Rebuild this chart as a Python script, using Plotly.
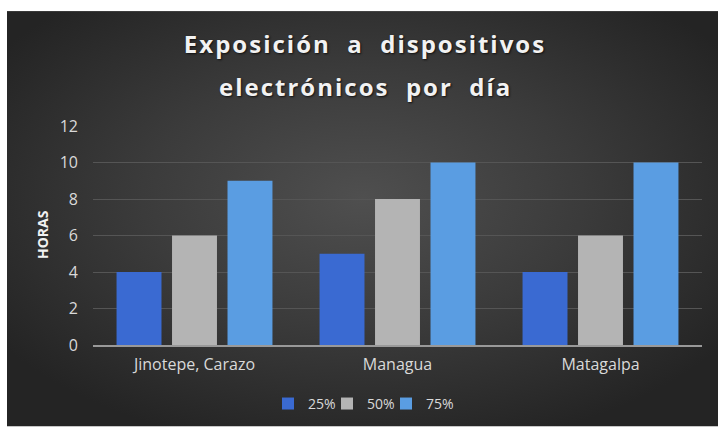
import base64
import plotly.graph_objects as go

categories = ["Jinotepe, Carazo", "Managua", "Matagalpa"]
series_names = ["25%", "50%", "75%"]
v25 = [4, 5, 4]
v50 = [6, 8, 6]
v75 = [9, 10, 10]
y_ticks = [0, 2, 4, 6, 8, 10, 12]

title_lines = ["Exposición&nbsp; a&nbsp; dispositivos", "electrónicos&nbsp; por&nbsp; día"]
colors = ["#3A6AD2", "#B4B4B4", "#5A9DE2"]

W, H = 718, 432
L, R, T, B = 93, 16, 126, 83
pw, ph = W - L - R, H - T - B
BG_X0, BG_Y0 = 7, 9  # dark chart area starts here (white border left/top)


def px(x):
    return (x - L) / pw


def py(y):
    return (H - B - y) / ph


bw, bh = W - BG_X0, H - BG_Y0
svg = f'''<svg xmlns="http://www.w3.org/2000/svg" width="{bw}" height="{bh}" viewBox="0 0 {bw} {bh}" preserveAspectRatio="none">
<defs><radialGradient id="g" cx="0.5" cy="0.45" r="0.62" gradientUnits="objectBoundingBox">
<stop offset="0" stop-color="#4f4f4f"/><stop offset="0.5" stop-color="#3b3b3b"/><stop offset="1" stop-color="#242424"/>
</radialGradient></defs><rect width="{bw}" height="{bh}" fill="url(#g)"/></svg>'''
src = "data:image/svg+xml;base64," + base64.b64encode(svg.encode()).decode()

legend_names = ["legend", "legend2", "legend3"]
legend_left = [268, 327, 386]

fig = go.Figure()
for name, vals, c, lg in zip(series_names, [v25, v50, v75], colors, legend_names):
    fig.add_trace(go.Bar(x=categories, y=vals, name=name, legend=lg,
                         marker=dict(color=c, line=dict(width=0))))

title_font = dict(family="Open Sans, sans-serif", size=24, color="#F2F2F2", weight="bold", shadow="1px 1px 2px #111")

legend_common = dict(orientation="h", xanchor="left", yanchor="middle", y=py(409),
                     font=dict(size=14, color="#D9D9D9"), bgcolor="rgba(0,0,0,0)", itemwidth=30)

fig.update_layout(
    width=W, height=H,
    margin=dict(l=L, r=R, t=T, b=B),
    paper_bgcolor="white",
    plot_bgcolor="rgba(0,0,0,0)",
    barmode="group", bargap=0.18, bargroupgap=0.19,
    font=dict(family="Open Sans, sans-serif", color="#D9D9D9", size=14),
    title=dict(text='<span style="letter-spacing:2px">' + title_lines[0] + '</span>',
               x=365 / W, xanchor="center", y=1 - 45 / H, yanchor="middle", font=title_font),
    images=[dict(source=src, xref="paper", yref="paper",
                 x=px(BG_X0), y=py(BG_Y0), sizex=bw / pw, sizey=bh / ph,
                 xanchor="left", yanchor="top", sizing="stretch", layer="below")],
    legend=dict(x=px(legend_left[0]), **legend_common),
    legend2=dict(x=px(legend_left[1]), **legend_common),
    legend3=dict(x=px(legend_left[2]), **legend_common),
    showlegend=True,
    annotations=[
        dict(text='<span style="letter-spacing:2px">' + title_lines[1] + '</span>',
             xref="paper", yref="paper", x=px(365), y=py(86), xanchor="center", yanchor="middle",
             showarrow=False, font=title_font),
        dict(text="<b>HORAS</b>", textangle=-90, xref="paper", yref="paper",
             x=px(42), y=py(237), showarrow=False, xanchor="center", yanchor="middle",
             font=dict(size=14, color="#F2F2F2")),
    ],
)
fig.update_yaxes(range=[0, 12], tickvals=y_ticks, showgrid=True, gridcolor="#555555", gridwidth=1,
                 zeroline=False, showline=False, ticks="", ticklabelstandoff=14,
                 tickfont=dict(size=16, color="#D9D9D9"))
fig.update_xaxes(showline=True, linecolor="#999999", linewidth=1.5, ticks="", showgrid=False,
                 tickfont=dict(size=16, color="#D9D9D9"), ticklabelstandoff=4)

fig.write_html(
    "out.html",
    config={"displayModeBar": False},
    post_script=("document.body.style.margin='0';document.body.style.overflow='hidden';"
                 "document.body.style.background='#262626';"
                 "document.documentElement.style.background='#262626';"),
)
